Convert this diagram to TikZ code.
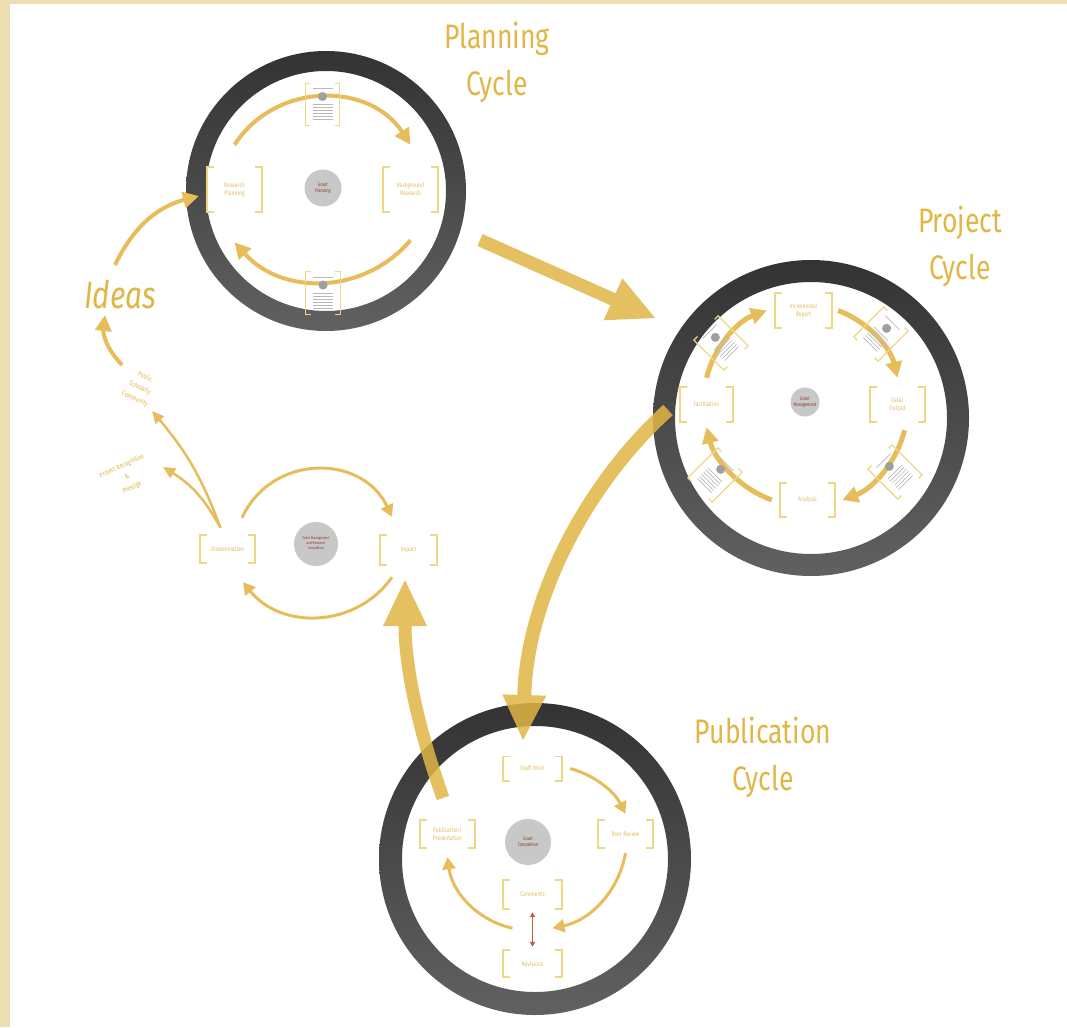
\documentclass[tikz,border=0pt]{standalone}
\usepackage{fontspec}
\setmainfont{Fira Sans}[FakeStretch=0.78]
\usetikzlibrary{arrows.meta}
\usetikzlibrary{calc}

\definecolor{frameband}{HTML}{EDDDB2}
\definecolor{gold}{HTML}{E0B646}
\definecolor{arcgold}{HTML}{E7BD5C}
\definecolor{brackgold}{HTML}{F0D685}
\definecolor{stagetext}{HTML}{E2BE62}
\definecolor{hubgray}{HTML}{C8C8C8}
\definecolor{hubtext}{HTML}{8C3A28}
\definecolor{swaparrow}{HTML}{B5613F}

\tikzset{
  ring/.style={top color=black!80, bottom color=black!62, even odd rule},
  title/.style={text=gold, font=\fontsize{34}{47}\selectfont, align=center},
  stage/.style={text=stagetext, font=\fontsize{6.5}{8}\selectfont, align=center, inner sep=0pt},
  hub/.style={circle, fill=hubgray, text=hubtext, font=\fontsize{5}{6}\selectfont, align=center, inner sep=0pt},
  brk/.style={brackgold, line width=1.6pt},
  docframe/.style={minimum width=34pt, minimum height=42pt, inner sep=0pt},
  doctxt/.style={gray!55, line width=0.7pt},
  cyc/.style={arcgold, line width=4pt, -{Triangle[length=16pt,width=16pt]}},
  cycthin/.style={arcgold, line width=3pt, -{Triangle[length=12pt,width=13pt]}},
  bigarr/.style={gold, opacity=0.85, line width=13pt, -{Triangle[length=46pt,width=46pt,line width=0pt]}},
  note/.style={text=gold, font=\fontsize{7}{12}\selectfont, align=center}
}

\newcommand{\minidoc}[4]{%
  \node[docframe, rotate=#4] (#1) at (#2,#3) {};
  \begin{scope}[shift={(#2,#3)}, rotate=#4]
    \draw[doctxt] (-10,-16) -- (10,-16);
    \foreach \k in {0,3,...,15} \draw[doctxt] (-10,\k) -- (10,\k);
    \fill[gray!75] (0,-8) circle (4.5pt);
  \end{scope}}

\begin{document}
\begin{tikzpicture}[x=1pt,y=-1pt]
\useasboundingbox (0,0) rectangle (1067,1027);
\fill[frameband] (0,0) rectangle (1067,1027);
\fill[white] (10,4) rectangle (1067,1027);

\coordinate (plan) at (326,191);
\coordinate (proj) at (811,418);
\coordinate (pub) at (535,859);
\shade[ring] (plan) circle[radius=140pt] (plan) circle[radius=120pt];
\shade[ring] (proj) circle[radius=158pt] (proj) circle[radius=136pt];
\shade[ring] (pub) circle[radius=156pt] (pub) circle[radius=133pt];

\node[title] (plantitle) at (497,62) {Planning\\Cycle};
\node[title] (projtitle) at (960,246) {Project\\Cycle};
\node[title] (pubtitle) at (763,757) {Publication\\Cycle};
\node[title, font=\itshape\fontsize{38}{40}\selectfont] (ideas) at (120,295) {Ideas};

\node[hub, minimum size=37pt] (planhub) at (323,188) {Grant\\Planning};
\node[stage, minimum width=55pt, minimum height=45pt] (resplan) at (234.5,189.5) {Research\\Planning};
\node[stage, minimum width=55pt, minimum height=45pt] (backres) at (410.5,189.5) {Background\\Research};

\node[hub, minimum size=29pt] (projhub) at (805,402) {Grant\\Management};
\node[stage, minimum width=57pt, minimum height=35pt] (incrrep) at (803.5,310.5) {Incremental\\Report};
\node[stage, minimum width=55pt, minimum height=35pt] (dataout) at (897.5,404.5) {Data/\\Output};
\node[stage, minimum width=55pt, minimum height=34pt] (analysis) at (807.5,500) {Analysis};
\node[stage, minimum width=53pt, minimum height=35pt] (facil) at (706.5,404.5) {Facilitation};

\node[hub, minimum size=46pt] (pubhub) at (528,842) {Grant\\Completion};
\node[stage, minimum width=59pt, minimum height=24pt] (draft) at (532.5,768.5) {Draft Work};
\node[stage, minimum width=55pt, minimum height=28pt] (peer) at (625.5,834) {Peer Review};
\node[stage, minimum width=55pt, minimum height=28pt] (pubpres) at (447.5,834) {Publication/\\Presentation};
\node[stage, minimum width=59pt, minimum height=29pt] (comments) at (532.5,894.5) {Comments};
\node[stage, minimum width=59pt, minimum height=27pt] (revisions) at (532.5,963.5) {Revisions};

\node[hub, minimum size=44pt, font=\fontsize{4}{5}\selectfont] (grantmgmt) at (316,544) {Grant Management\\and Research\\Completion};
\node[stage, minimum width=55pt, minimum height=28pt] (dissem) at (227.5,549) {Dissemination};
\node[stage, minimum width=57pt, minimum height=30pt] (impact) at (408.5,550) {Impact};

\foreach \n in {resplan,backres,incrrep,dataout,analysis,facil,draft,peer,pubpres,comments,revisions,dissem,impact}{
  \draw[brk] ($(\n.north west)!7pt!(\n.north east)$) -- (\n.north west) -- (\n.south west) -- ($(\n.south west)!7pt!(\n.south east)$);
  \draw[brk] ($(\n.north east)!7pt!(\n.north west)$) -- (\n.north east) -- (\n.south east) -- ($(\n.south east)!7pt!(\n.south west)$);
}

\draw[cyc] ([yshift=22pt]resplan.north) to[bend left=57, looseness=1.1] ([yshift=22pt]backres.north);
\draw[cyc] ([yshift=-28pt]backres.south) to[bend left=49, looseness=1.04] ([yshift=-30pt]resplan.south);

\draw[cyc, line width=5pt] ([yshift=9pt]facil.north) to[bend left=28, looseness=0.9] ([xshift=-8pt]incrrep.west);
\draw[cyc, line width=5pt] ([xshift=6pt]incrrep.east) to[bend left=28, looseness=0.9] ([yshift=9pt]dataout.north);
\draw[cyc, line width=5pt] ([xshift=7pt,yshift=-8pt]dataout.south) to[bend left=28, looseness=0.9] ([xshift=7pt]analysis.east);
\draw[cyc, line width=5pt] ([xshift=-8pt]analysis.west) to[bend left=28, looseness=0.9] ([yshift=-5pt]facil.south);

\draw[cycthin] ([xshift=8pt]draft.east) to[bend left=24, looseness=0.9] ([yshift=6pt]peer.north);
\draw[cycthin] ([yshift=-5pt]peer.south) to[bend left=34, looseness=0.95] ([xshift=20pt,yshift=-19pt]comments.south);
\draw[cycthin] ([xshift=-20pt,yshift=-19pt]comments.south) to[bend left=35, looseness=0.95] ([yshift=-9pt]pubpres.south);
\draw[swaparrow, line width=1.5pt, {Triangle[length=5pt,width=5pt]}-{Triangle[length=5pt,width=5pt]}, shorten <=3pt, shorten >=3pt] (comments.south) -- (revisions.north);

\draw[cycthin] ([xshift=14.5pt,yshift=17pt]dissem.north) to[bend left=65, looseness=1.2] ([xshift=-16.5pt,yshift=18pt]impact.north);
\draw[cycthin] ([xshift=-16.5pt,yshift=-12pt]impact.south) to[bend left=53, looseness=1.06] ([xshift=15.5pt,yshift=-19pt]dissem.south);

\minidoc{plandocA}{322.5}{104.5}{0}
\minidoc{plandocB}{323}{293}{0}
\minidoc{projdocA}{721}{343}{45}
\minidoc{projdocB}{881}{334}{-45}
\minidoc{projdocC}{895}{472}{45}
\minidoc{projdocD}{715}{475}{-45}
\foreach \n in {plandocA,plandocB,projdocA,projdocB,projdocC,projdocD}{
  \draw[brk, line width=1.2pt] ($(\n.north west)!5pt!(\n.north east)$) -- (\n.north west) -- (\n.south west) -- ($(\n.south west)!5pt!(\n.south east)$);
  \draw[brk, line width=1.2pt] ($(\n.north east)!5pt!(\n.north west)$) -- (\n.north east) -- (\n.south east) -- ($(\n.south east)!5pt!(\n.south west)$);
}

\node[note, rotate=-25] (community) at (140,388) {Public\\Scholarly\\Community};
\node[note, rotate=25] (prestige) at (127,477) {Project Recognition\\\&\\Prestige};

\coordinate (disstop) at ([xshift=-7pt,yshift=7pt]dissem.north);
\coordinate (tocommunity) at (152,411);
\coordinate (toprestige) at (163,467);
\coordinate (fromcommunity) at (122,365);
\coordinate (toideas) at (105,315);
\coordinate (fromideas) at (115,265);
\coordinate (toplan) at (199,196);
\draw[arcgold, line width=2.5pt, -{Triangle[length=12pt,width=11pt]}] (disstop) to[bend right=10] (tocommunity);
\draw[arcgold, line width=2.5pt, -{Triangle[length=12pt,width=11pt]}] (disstop) to[bend right=15] (toprestige);
\draw[cyc] (fromcommunity) to[bend left=25] (toideas);
\draw[cyc] (fromideas) to[bend left=25] (toplan);

\coordinate (bigA0) at (480,240);
\coordinate (bigA1) at (655,318);
\coordinate (bigB0) at (668,410);
\coordinate (bigB1) at (523,740);
\coordinate (bigC0) at (443,798);
\coordinate (bigC1) at (405,580);
\draw[bigarr] (bigA0) -- (bigA1);
\draw[bigarr, line width=14pt, -{Triangle[length=45pt,width=44pt,line width=0pt]}] (bigB0) .. controls (585,485) and (527,600) .. (bigB1);
\draw[bigarr, -{Triangle[length=46pt,width=44pt,line width=0pt]}] (bigC0) .. controls (415,720) and (405,660) .. (bigC1);
\end{tikzpicture}
\end{document}
